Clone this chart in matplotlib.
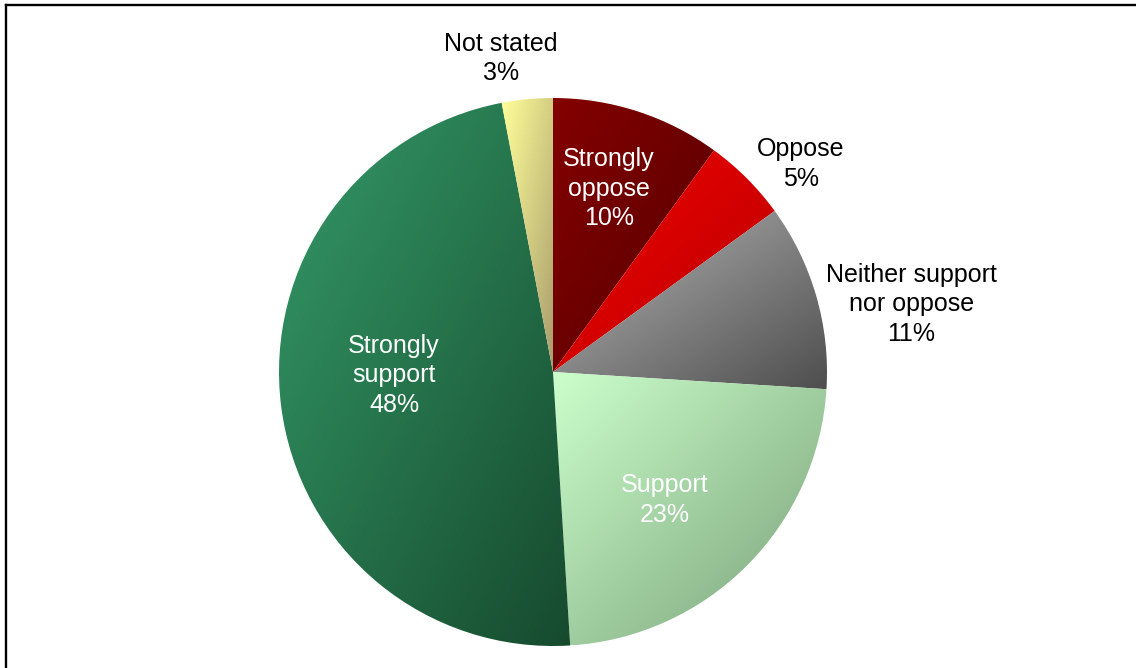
import numpy as np
import matplotlib
matplotlib.use('Agg')
import matplotlib.pyplot as plt

plt.rcParams['font.family'] = ['Liberation Sans', 'DejaVu Sans']

labels = ['Strongly\noppose', 'Oppose', 'Neither support\nnor oppose',
          'Support', 'Strongly\nsupport', 'Not stated']
values = [10, 5, 11, 23, 48, 3]

# gradient end colours per slice (top-left -> bottom-right)
light = ['#840000', '#f20000', '#b8b8b8', '#ccffcc', '#349a68', '#ffff99']
dark = ['#540000', '#b80000', '#4e4e4e', '#78a078', '#164a2e', '#a89c6c']
text_col = ['white', 'black', 'black', 'white', 'white', 'black']

# label placement: radius as a fraction of R, and angle nudge in degrees
lab_r = [0.70, 1.18, 1.33, 0.62, 0.58, 1.16]
lab_da = [1, -5, -5.5, -4, -6, 4]

W, H = 1136, 668
CX, CY, R = 553, 668 - 372, 274

fig = plt.figure(figsize=(W / 100, H / 100), dpi=100)
ax = fig.add_axes([0, 0, 1, 1])

wedges, _ = ax.pie(values, startangle=90, counterclock=False, radius=R,
                   center=(CX, CY), wedgeprops=dict(linewidth=0, edgecolor='none'),
                   frame=True)
ax.set_xlim(0, W)
ax.set_ylim(0, H)
ax.axis('off')

def hex2rgb(h):
    return np.array(matplotlib.colors.to_rgb(h))

for i, w in enumerate(wedges):
    w.set_facecolor('none')
    th = np.radians(np.linspace(w.theta1, w.theta2, 100))
    xs = np.concatenate([[CX], CX + R * np.cos(th)])
    ys = np.concatenate([[CY], CY + R * np.sin(th)])
    x0, x1, y0, y1 = xs.min(), xs.max(), ys.min(), ys.max()
    gx, gy = np.meshgrid(np.linspace(0, 1, 200), np.linspace(0, 1, 200))
    t = (gx + (1 - gy)) / 2
    c0, c1 = hex2rgb(light[i]), hex2rgb(dark[i])
    img = c0[None, None, :] * (1 - t[..., None]) + c1[None, None, :] * t[..., None]
    im = ax.imshow(img, extent=(x0, x1, y0, y1), origin='lower',
                   interpolation='bilinear', zorder=1, aspect='auto')
    im.set_clip_path(w)

    mid = np.radians((w.theta1 + w.theta2) / 2 + lab_da[i])
    tx = CX + lab_r[i] * R * np.cos(mid)
    ty = CY + lab_r[i] * R * np.sin(mid)
    ax.text(tx, ty, '%s\n%d%%' % (labels[i], values[i]), ha='center', va='center',
            fontsize=18, color=text_col[i], linespacing=1.3, zorder=3)

# outer frame (top and left edges)
ax.plot([6, 6], [0, H - 5], color='black', lw=1.7, solid_capstyle='projecting')
ax.plot([6, W], [H - 5, H - 5], color='black', lw=1.7, solid_capstyle='projecting')

fig.savefig('out.png', dpi=100)
